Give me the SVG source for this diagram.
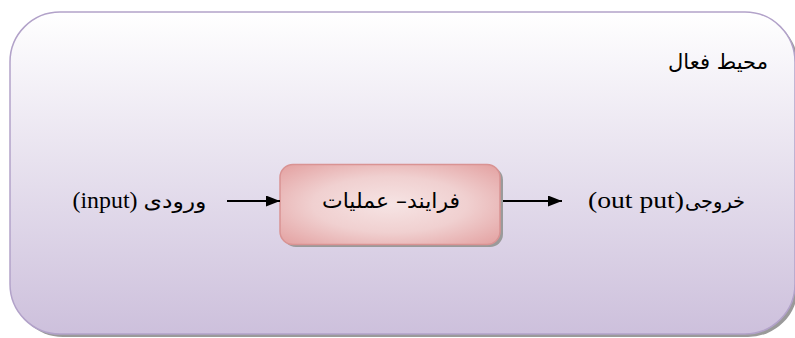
<svg xmlns="http://www.w3.org/2000/svg" width="795" height="338" viewBox="0 0 795 338">
<defs>
<linearGradient id="bg" x1="0" y1="0" x2="0" y2="1">
<stop offset="0" stop-color="#ffffff"/>
<stop offset="1" stop-color="#cdc0dc"/>
</linearGradient>
<radialGradient id="pk" cx="0.5" cy="0.5" r="0.7">
<stop offset="0" stop-color="#f6e4e4"/>
<stop offset="0.5" stop-color="#f0d0d0"/>
<stop offset="1" stop-color="#e3a0a0"/>
</radialGradient>
<marker id="ah" markerWidth="14" markerHeight="11" refX="14" refY="5.5" orient="auto" markerUnits="userSpaceOnUse">
<path d="M0,0 L14,5.5 L0,11 Z" fill="#000"/>
</marker>
</defs>
<style>
.ser{font-family:"Liberation Serif","DejaVu Sans",serif;fill:#000}
.fa{font-family:"DejaVu Sans","Liberation Serif",sans-serif;fill:#000}
.conn{stroke:#000;stroke-width:2;fill:none}
</style>
<g id="environment">
<rect x="13" y="15" width="785" height="322" rx="50" ry="50" fill="#9a9a9a"/>
<rect x="10" y="12" width="785" height="322" rx="50" ry="50" fill="url(#bg)" stroke="#b2a2c9" stroke-width="1.5"/>
<text class="fa" x="718" y="69" font-size="21" text-anchor="middle" direction="rtl" textLength="100" lengthAdjust="spacingAndGlyphs">محیط فعال</text>
</g>
<g id="input">
<text class="ser" x="105" y="208" font-size="23" text-anchor="middle" textLength="65" lengthAdjust="spacingAndGlyphs">(input)</text>
<text class="fa" x="175" y="208" font-size="20" text-anchor="middle" direction="rtl" textLength="63" lengthAdjust="spacingAndGlyphs">ورودی</text>
</g>
<g id="process">
<rect x="283" y="167" width="220" height="80" rx="13" ry="13" fill="#9a9a9a"/>
<rect x="280" y="164.5" width="220" height="80" rx="13" ry="13" fill="url(#pk)" stroke="#d99393" stroke-width="1.5"/>
<text class="fa" x="391" y="208" font-size="21" text-anchor="middle" direction="rtl" textLength="138" lengthAdjust="spacingAndGlyphs">فرایند– عملیات</text>
</g>
<g id="output">
<text class="ser" x="636" y="208" font-size="24" text-anchor="middle" textLength="96" lengthAdjust="spacingAndGlyphs">(out put)</text>
<text class="fa" x="715" y="208" font-size="20" text-anchor="middle" direction="rtl" textLength="60" lengthAdjust="spacingAndGlyphs">خروجی</text>
</g>
<g id="connectors">
<line class="conn" x1="227" y1="201" x2="280" y2="201" marker-end="url(#ah)"/>
<line class="conn" x1="503" y1="201" x2="562" y2="201" marker-end="url(#ah)"/>
</g>
</svg>
